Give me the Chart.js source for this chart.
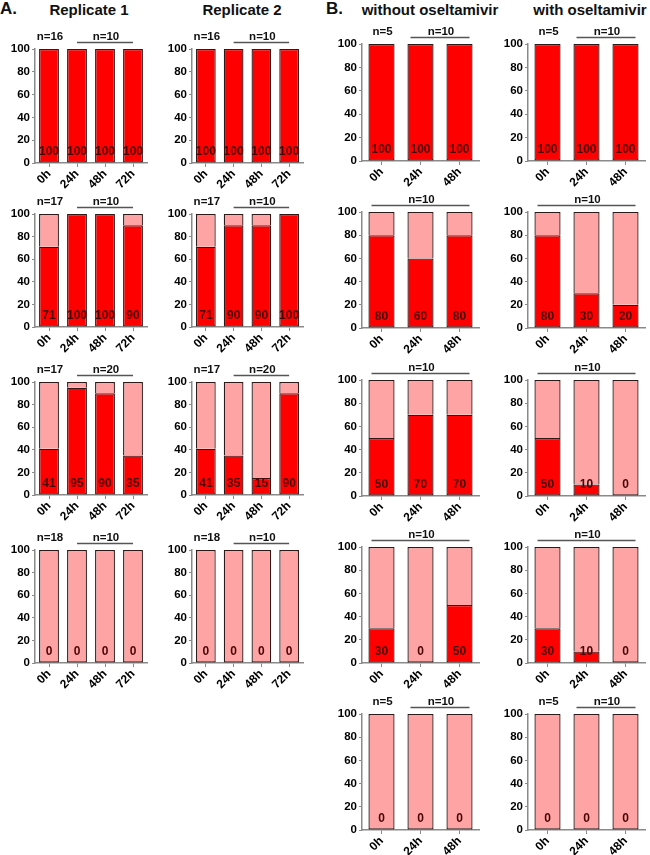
<!DOCTYPE html>
<html>
<head>
<meta charset="utf-8">
<script src="https://cdn.jsdelivr.net/npm/chart.js@4.4.1/dist/chart.umd.min.js"></script>
<style>
  body { margin: 0; background: #fff; width: 650px; height: 855px; position: relative; overflow: hidden;
         font-family: "Liberation Sans", Arial, sans-serif; }
  .t { position: absolute; font-weight: bold; color: #111; white-space: nowrap; line-height: 1; }
  .c { transform: translateX(-50%); }
  .box { position: absolute; }
</style>
</head>
<body>
<div class="t" style="left:0px;top:0px;font-size:17px">A.</div>
<div class="t c" style="left:89px;top:2px;font-size:15px">Replicate 1</div>
<div class="t c" style="left:242px;top:2px;font-size:15px">Replicate 2</div>
<div class="t" style="left:326px;top:0px;font-size:17px">B.</div>
<div class="t c" style="left:430px;top:2px;font-size:15px">without oseltamivir</div>
<div class="t c" style="left:590px;top:2px;font-size:15px">with oseltamivir</div>

<script>
// ---- data ----
const hoursA = ['0h', '24h', '48h', '72h'];
const hoursB = ['0h', '24h', '48h'];
const yTicks = [0, 20, 40, 60, 80, 100];

// percent in red (positive) per row
const replicate1 = [[100, 100, 100, 100], [71, 100, 100, 90], [41, 95, 90, 35], [0, 0, 0, 0]];
const replicate2 = [[100, 100, 100, 100], [71, 90, 90, 100], [41, 35, 15, 90], [0, 0, 0, 0]];
const withoutOsel = [[100, 100, 100], [80, 60, 80], [50, 70, 70], [30, 0, 50], [0, 0, 0]];
const withOsel = [[100, 100, 100], [80, 30, 20], [50, 10, 0], [30, 10, 0], [0, 0, 0]];

// n= labels: [first bar, remaining bars] (null = one label over all bars)
const nA = [['n=16', 'n=10'], ['n=17', 'n=10'], ['n=17', 'n=20'], ['n=18', 'n=10']];
const nB = [['n=5', 'n=10'], [null, 'n=10'], [null, 'n=10'], [null, 'n=10'], ['n=5', 'n=10']];

// ---- layout (plot area edges in page pixels) ----
const colsX = [[35, 147], [192, 303], [362, 479], [528, 645]];
const rowsA = [[49, 163], [214, 327], [382, 495], [550, 663]];
const rowsB = [[44, 161], [212, 328], [380, 496], [547, 663], [714, 830]];

const RED = '#ff0000';
const PINK = '#ffa4a4';
const EDGE = '#2e1818';
const AXIS = '#8a8a8a';
const FONT = '"Liberation Sans", Arial, sans-serif';

const barText = {
  id: 'barText',
  afterDatasetsDraw(chart, args, opts) {
    const ctx = chart.ctx;
    const xs = chart.scales.x, ys = chart.scales.y;
    const vals = chart.data.datasets[0].data;
    ctx.save();
    ctx.textAlign = 'center';
    ctx.textBaseline = 'middle';
    ctx.font = 'bold 12px ' + FONT;
    ctx.fillStyle = '#4a0505';
    vals.forEach((v, i) => {
      ctx.fillText(String(v), xs.getPixelForValue(i), ys.getPixelForValue(0) - 11);
    });
    // n labels
    const top = ys.getPixelForValue(100);
    ctx.font = 'bold 11.5px ' + FONT;
    ctx.fillStyle = '#111';
    opts.groups.forEach((g) => {
      const x0 = xs.getPixelForValue(g.from);
      const x1 = xs.getPixelForValue(g.to);
      if (g.from !== g.to) {
        ctx.strokeStyle = '#555';
        ctx.lineWidth = 1.3;
        ctx.beginPath();
        ctx.moveTo(x0 - opts.ext, top - 6.5);
        ctx.lineTo(x1 + opts.ext, top - 6.5);
        ctx.stroke();
      }
      ctx.fillText(g.text, (x0 + x1) / 2 + 1, top - 12.5);
    });
    ctx.restore();
  }
};

function buildGroups(pair, count) {
  if (pair[0] === null) return [{ from: 0, to: count - 1, text: pair[1] }];
  return [{ from: 0, to: 0, text: pair[0] }, { from: 1, to: count - 1, text: pair[1] }];
}

function makeChart(colEdge, rowEdge, labels, values, pair, ext, barPct) {
  const padTop = 24, yW = 36, xH = 34, padR = 4;
  const w = colEdge[1] - colEdge[0] + yW + padR;
  const h = rowEdge[1] - rowEdge[0] + padTop + xH;
  const box = document.createElement('div');
  box.className = 'box';
  box.style.left = (colEdge[0] - yW) + 'px';
  box.style.top = (rowEdge[0] - padTop) + 'px';
  const canvas = document.createElement('canvas');
  canvas.width = w;
  canvas.height = h;
  box.appendChild(canvas);
  document.body.appendChild(box);

  const barStyle = {
    borderColor: EDGE,
    borderWidth: (c) => (c.raw === 0 ? 0 : 1.3),
    inflateAmount: 0,
    barPercentage: barPct,
    categoryPercentage: 1
  };

  new Chart(canvas.getContext('2d'), {
    type: 'bar',
    data: {
      labels: labels,
      datasets: [
        Object.assign({ data: values, backgroundColor: RED, borderSkipped: false }, barStyle),
        Object.assign({
          data: values.map((v) => 100 - v),
          backgroundColor: PINK,
          // skip the bottom edge where it meets the red segment
          borderSkipped: (c) => (values[c.dataIndex] === 0 ? false : 'start')
        }, barStyle)
      ]
    },
    options: {
      responsive: false,
      animation: false,
      devicePixelRatio: 1,
      layout: { padding: { top: padTop, right: padR, left: 0, bottom: 0 } },
      plugins: {
        legend: { display: false },
        tooltip: { enabled: false },
        barText: { groups: buildGroups(pair, labels.length), ext: ext }
      },
      scales: {
        x: {
          stacked: true,
          grid: { display: true, drawOnChartArea: false, drawTicks: true, tickLength: 4, color: AXIS, offset: false },
          border: { color: AXIS, width: 1.5 },
          ticks: { minRotation: 45, maxRotation: 45, padding: 0, color: '#000', font: { family: FONT, size: 12, weight: 'bold' } },
          afterFit: (s) => { s.height = xH; }
        },
        y: {
          stacked: true,
          min: 0,
          max: 100,
          afterBuildTicks: (s) => { s.ticks = yTicks.map((v) => ({ value: v })); },
          grid: { display: true, drawOnChartArea: false, drawTicks: true, tickLength: 3, color: AXIS },
          border: { color: AXIS, width: 1.5 },
          ticks: { padding: 2, color: '#000', font: { family: FONT, size: 11.5, weight: 'bold' } },
          afterFit: (s) => { s.width = yW; }
        }
      }
    },
    plugins: [barText]
  });
}

rowsA.forEach((r, i) => {
  makeChart(colsX[0], r, hoursA, replicate1[i], nA[i], 0, 0.71);
  makeChart(colsX[1], r, hoursA, replicate2[i], nA[i], 0, 0.71);
});
rowsB.forEach((r, i) => {
  makeChart(colsX[2], r, hoursB, withoutOsel[i], nB[i], 10, 0.67);
  makeChart(colsX[3], r, hoursB, withOsel[i], nB[i], 10, 0.67);
});
</script>
</body>
</html>
